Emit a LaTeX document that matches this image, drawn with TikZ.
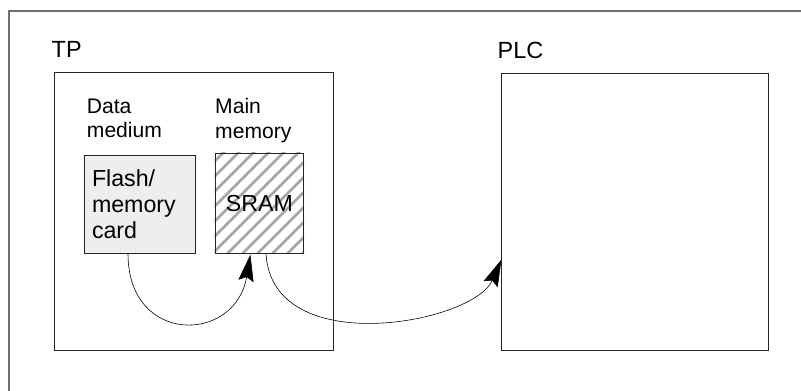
\documentclass[tikz,border=0pt]{standalone}
\usepackage{fontspec}
\setmainfont{Liberation Sans}
\usetikzlibrary{arrows.meta,positioning,backgrounds,calc}
\definecolor{framegray}{RGB}{112,112,112}
\definecolor{hatchgray}{RGB}{165,165,165}
\definecolor{cardgray}{RGB}{238,238,238}

\begin{document}
\begin{tikzpicture}[x=0.3mm, y=-0.3mm,
  unitbox/.style={rectangle, draw=black!85, line width=0.6pt, inner sep=0pt},
  title/.style={inner sep=0pt, font=\fontsize{20}{24}\selectfont},
  sublabel/.style={inner sep=0pt, align=left, font=\fontsize{18}{20.7}\selectfont},
  memtext/.style={font=\fontsize{19.8}{22.5}\selectfont},
  hatchline/.style={hatchgray, line width=0.8mm},
  arrow/.style={line width=0.5pt, -{Stealth[length=8mm, width=4.6mm, inset=1.2mm]}}]

\useasboundingbox (0,0) rectangle (801,391);

% Frame
\draw[framegray, line width=1.4pt] (9,391) -- (9,11) -- (801,11);

% Devices
\node[unitbox, minimum width=83.7mm, minimum height=83.4mm] (tp) at (193.5,210.9) {};
\node[unitbox, minimum width=80.1mm, minimum height=83.1mm] (plc) at (634.7,211.7) {};
\node[title, anchor=base west] (tplabel) at (51.5,57.5) {TP};
\node[title, anchor=base west] (plclabel) at (497.5,59) {PLC};

% Memories
\node[unitbox, memtext, fill=cardgray, minimum width=33.4mm, minimum height=29.5mm, text width=28.8mm, inner xsep=2.3mm, align=left] (flash) at (140,204.2) {Flash/\\memory\\card};
\node[unitbox, memtext, minimum width=26.6mm, minimum height=30mm] (sram) at (259.4,203.3) {SRAM};
\node[sublabel, anchor=north west] (datalabel) at (86.7,98.3) {Data\\medium};
\node[sublabel, anchor=north west] (mainlabel) at (215,98.3) {Main\\memory};

% Hatching of the SRAM
\begin{scope}[on background layer]
  \clip (sram.south west) rectangle (sram.north east);
  \foreach \c in {-107.3,-92.3,...,100}
    \draw[hatchline] ($(sram.south west)+(\c,0)$) -- +(110,-110);
\end{scope}

% Arrows
\draw[arrow] ($(flash.south)+(-12,0)$) .. controls +(0,92) and +(-15,89) .. ($(sram.south)+(-9,1)$);
\draw[arrow] ($(sram.south)+(6.6,0)$) .. controls +(6,107) and +(-28,64) .. ($(plc.west)+(0.5,48)$);

\end{tikzpicture}
\end{document}
